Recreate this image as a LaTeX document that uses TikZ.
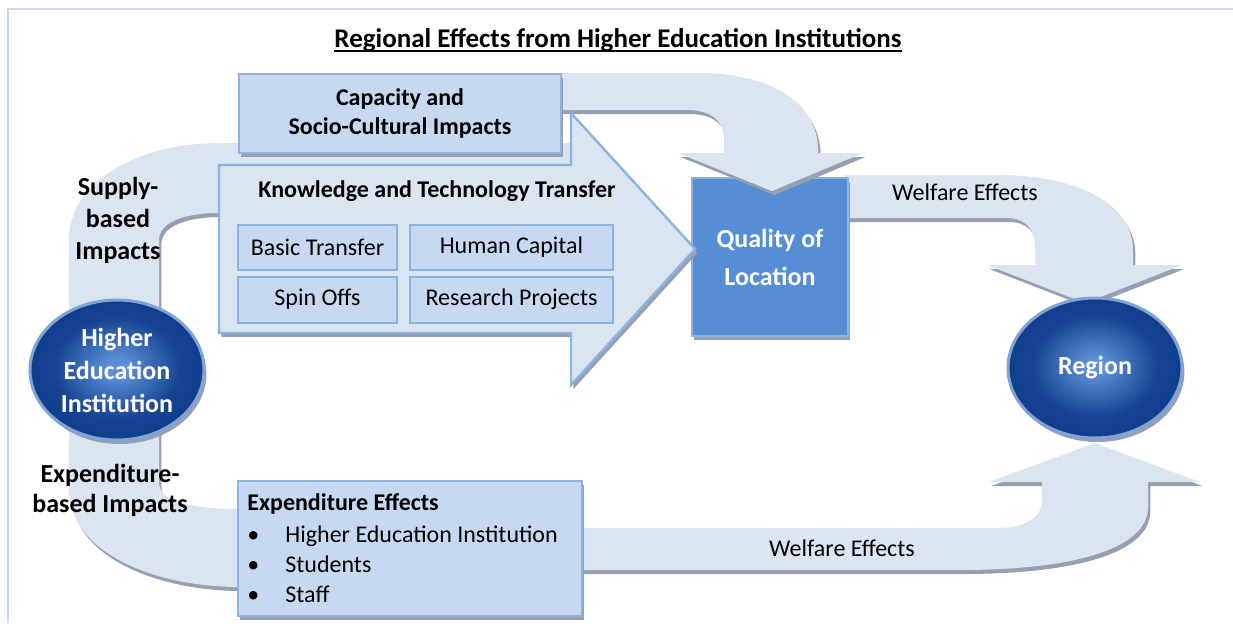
\documentclass[tikz,border=0pt]{standalone}
\usepackage{fontspec}
\setmainfont{Carlito}
\usepackage{tikz}
\usetikzlibrary{shapes.geometric,shadows,positioning}

\definecolor{bandblue}{RGB}{219,229,241}
\definecolor{boxblue}{RGB}{198,217,241}
\definecolor{lineblue}{RGB}{141,179,226}
\definecolor{qualblue}{RGB}{85,142,213}
\definecolor{shadowgray}{RGB}{150,160,176}
\definecolor{orbdark}{RGB}{16,62,140}
\definecolor{orblight}{RGB}{92,142,216}
\definecolor{orbline}{RGB}{126,163,212}
\definecolor{framecol}{RGB}{198,217,241}

\pgfdeclareradialshading{orbshade}{\pgfpoint{0bp}{1bp}}{color(0bp)=(orblight); color(3bp)=(orblight); color(18bp)=(orbdark!92!orblight); color(25bp)=(orbdark); color(50bp)=(orbdark)}

\begin{document}
\begin{tikzpicture}[x=0.5pt,y=-0.5pt,
  shadowed/.style={drop shadow={shadow xshift=1.2pt,shadow yshift=-2pt,fill=shadowgray,opacity=1}},
  band/.style={fill=bandblue,shadowed},
  box/.style={draw=lineblue,line width=1.2pt,fill=boxblue,shadowed,inner sep=0pt},
  subbox/.style={draw=lineblue,line width=1pt,fill=boxblue,inner sep=0pt,font=\fontsize{12}{14}\selectfont},
  orbnode/.style={ellipse,shade,shading=orbshade,draw=orbline,line width=1.5pt,shadowed,minimum width=87pt,minimum height=70pt,inner sep=0pt,text=white,align=center,font=\fontsize{13}{16.5}\selectfont\bfseries},
  sidelabel/.style={align=center,font=\fontsize{13}{16}\selectfont\bfseries},
  flowlabel/.style={font=\fontsize{12}{14}\selectfont}
]
\useasboundingbox (0,0) rectangle (1233,623);

% Frame
\draw[framecol,line width=1pt] (8,623) -- (8,9) -- (1233,9);

% Title
\node[anchor=base,inner sep=0pt,font=\fontsize{13.5}{16}\selectfont\bfseries] (title) at (618,47) {Regional Effects from Higher Education Institutions};
\draw[line width=1pt] ([yshift=-1.8pt]title.base west) -- ([yshift=-1.8pt]title.base east);

% Supply and expenditure band
\path[band] (571,143) -- (220,143) .. controls (140,143) and (69,180) .. (69,240) -- (69,490)
  .. controls (69,550) and (150,587) .. (240,587) -- (300,587) -- (300,509) -- (240,509)
  .. controls (185,509) and (159,500) .. (159,482) -- (159,240)
  .. controls (159,222) and (185,213) .. (219,213) -- (571,213) -- cycle;

% Welfare band, bottom
\path[band] (300,528) -- (997,528) .. controls (1025,528) and (1042,518) .. (1042,500) -- (1042,482)
  -- (989,482) -- (1095,443) -- (1200,482) -- (1148,482) -- (1148,507)
  .. controls (1148,550) and (1070,570) .. (960,570) -- (300,570) -- cycle;

% Welfare band, top
\path[band] (845,175) -- (997,175) .. controls (1080,175) and (1133,205) .. (1133,250) -- (1133,265)
  -- (1182,265) -- (1085,303) -- (987,265) -- (1035,265) -- (1035,247)
  .. controls (1035,228) and (1024,218) .. (1007,218) -- (845,218) -- cycle;

% Quality of location
\node[box,fill=qualblue,minimum width=78pt,minimum height=79pt,text=white,align=center,
  font=\fontsize{13}{19}\selectfont\bfseries] (quality) at (770,257) {Quality of\\Location};

% Capacity arrow
\path[band] (550,73) -- (697,73) .. controls (775,73) and (818,105) .. (818,150) -- (818,153)
  -- (863,153) -- (772,191) -- (678,153) -- (724,153) -- (724,140)
  .. controls (724,120) and (710,110) .. (687,110) -- (550,110) -- cycle;

% Knowledge arrow
\path[band,draw=lineblue,line width=1.2pt] (219,165) -- (571,165) -- (571,113) -- (695,249)
  -- (571,385) -- (571,333) -- (219,333) -- cycle;
\node[font=\fontsize{12}{14}\selectfont\bfseries] (ktt) at (437,191) {Knowledge and Technology Transfer};

\node[subbox,minimum width=79.5pt,minimum height=22.5pt] (basic) at (317.5,247) {Basic Transfer};
\node[subbox,minimum width=101.5pt,minimum height=22.5pt,right=5.5pt of basic] (human) {Human Capital};
\node[subbox,minimum width=79.5pt,minimum height=23pt,below=2.5pt of basic] (spin) {Spin Offs};
\node[subbox,minimum width=101.5pt,minimum height=23pt,below=2.5pt of human] (research) {Research Projects};

% Capacity box
\node[box,minimum width=161pt,minimum height=39.5pt,align=center,
  font=\fontsize{12}{14.5}\selectfont\bfseries] (capacity) at (400,113.5) {Capacity and\\Socio-Cultural Impacts};

% Expenditure box
\node[box,minimum width=172pt,minimum height=67.5pt] (expend) at (410,548.5) {};
\node[anchor=base west,inner sep=0pt,font=\fontsize{12}{14}\selectfont\bfseries] (exptitle) at (247,510) {Expenditure Effects};
\foreach \y/\t [count=\i] in {542/Higher Education Institution,572/Students,602/Staff}{
  \node[anchor=base west,inner sep=0pt,font=\fontsize{12}{14}\selectfont] (dot\i) at (247,\y) {\textbullet};
  \node[anchor=base west,inner sep=0pt,font=\fontsize{12}{14}\selectfont] (item\i) at (285,\y) {\t};
}

% Circles
\node[orbnode] (hei) at (117,370) {Higher\\Education\\Institution};
\node[orbnode] (region) at (1095,368) {Region};

% Labels
\node[sidelabel] (supply) at (118,220) {Supply-\\based\\Impacts};
\node[sidelabel,font=\fontsize{13}{15}\selectfont\bfseries] (expbased) at (110,490) {Expenditure-\\based Impacts};
\node[flowlabel] (wtop) at (965,192) {Welfare Effects};
\node[flowlabel] (wbottom) at (842,548) {Welfare Effects};

\end{tikzpicture}
\end{document}
